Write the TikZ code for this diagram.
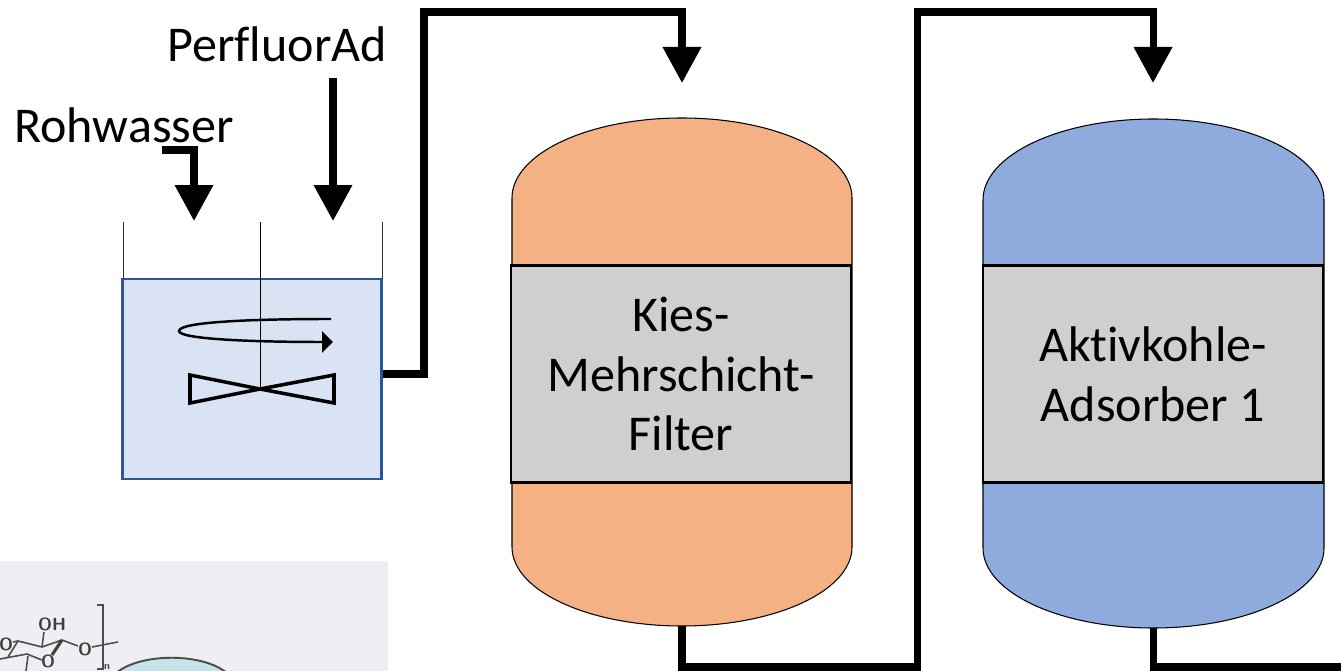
\documentclass[tikz,border=0pt]{standalone}
\usepackage{fontspec}
\setmainfont[Ligatures=NoCommon]{Carlito}
\usetikzlibrary{calc, arrows.meta}
\definecolor{tankblue}{HTML}{D9E3F3}
\definecolor{tankedge}{HTML}{2F5597}
\definecolor{filterorange}{HTML}{F4B183}
\definecolor{carbonblue}{HTML}{8FAADC}
\definecolor{coregray}{HTML}{D0CECE}
\definecolor{photogray}{HTML}{EFEEF3}
\definecolor{domeblue}{HTML}{C4E4EA}
\tikzset{
	pipe/.style = {line width = 4pt, line join = miter},
	feed/.style = {pipe, -{Triangle[width = 0.74cm, length = 0.72cm]}},
	corebox/.style = {draw, line width = 1.2pt, fill = coregray, minimum width = 6.8cm, minimum height = 4.34cm, align = center, font = \fontsize{28.5}{34}\selectfont, inner sep = 0pt},
	vessel/.style = {draw, line width = 0.6pt},
	label/.style = {font = \fontsize{28.5}{33}\selectfont, inner sep = 0pt},
	chem/.style = {line width = 0.9pt, draw = black!70},
	chemtext/.style = {font = \sffamily\bfseries\fontsize{10}{11}\selectfont, inner sep = 0pt, text = black!75}
}
\begin{document}
\begin{tikzpicture}[x = 0.02cm, y = -0.02cm]
	\useasboundingbox (0,0) rectangle (1341,671);
	\clip (0,0) rectangle (1341,671);

	% photo fragment
	\begin{scope}
		\fill [photogray] (0,561) rectangle (388,671);
		\draw [chem, line width = 1.1pt, fill = domeblue] (114,675) .. controls (137,652) and (206,652) .. (229,675);
		\draw [chem] (97,605) -- (103,605) -- (103,669) -- (97,669);
		\draw [chem] (13,642) -- (18,641) -- (42,647) -- (62,640) -- (78,646);
		\draw [chem] (92,647) -- (118,642);
		\draw [chem] (0,659) -- (27,654) -- (42,660);
		\draw [chem] (18,641) -- (8,657);
		\draw [chem] (42,647) -- (44,632);
		\draw [chem] (28,656) -- (26,671);
		\draw [line width = 1.8pt, black!75] (62,640) -- (52,655);
		\node [chemtext] (oh) at (52,624) {OH};
		\node [chemtext] (oa) at (85,649) {O};
		\node [chemtext] (ob) at (48,661) {O};
		\node [chemtext] (oc) at (6,644) {O};
		\node [chemtext, font = \sffamily\bfseries\fontsize{6}{7}\selectfont] (rep) at (107,667) {n};
	\end{scope}

	% mixing tank
	\node [draw = tankedge, line width = 1.2pt, fill = tankblue, minimum width = 5.18cm, minimum height = 4cm, inner sep = 0pt] (tank) at (252,379) {};
	\draw [line width = 0.5pt, black!80] (123,222) -- (123,279);
	\draw [line width = 0.5pt, black!80] (382,222) -- (382,279);
	\draw [line width = 0.5pt] (260,222) -- (260,389);
	\draw [line width = 2pt] (190,375) -- (260,389) -- (334,375) -- (334,403) -- (260,389) -- (190,403) -- cycle;
	\draw [line width = 1.4pt, -{Triangle[width = 0.42cm, length = 0.22cm]}] (331,319) .. controls (250,319) and (179,322) .. (179,331) .. controls (179,339) and (250,342) .. (333,342);

	% labels
	\node [label, anchor = west] (raw) at (14,125) {Rohwasser};
	\node [label, anchor = west] (dose) at (167,44) {PerfluorAd};
	\coordinate (rawstart) at (162,150);
	\coordinate (rawend) at (194,221);
	\coordinate (dosestart) at (333,78);
	\coordinate (doseend) at (333,221);
	\draw [feed] (rawstart) -- (rawend |- rawstart) -- (rawend);
	\draw [feed] (dosestart) -- (doseend);

	% filter vessel
	\draw [vessel, fill = filterorange] (512,265) -- (512,198) arc [start angle = 180, end angle = 360, x radius = 170, y radius = 80] -- (852,547) arc [start angle = 0, end angle = 180, x radius = 170, y radius = 79] -- cycle;
	\node [corebox] (filter) at (681,374) {Kies-\\Mehrschicht-\\Filter};

	% adsorber vessel
	\draw [vessel, fill = carbonblue] (983,265) -- (983,200) arc [start angle = 180, end angle = 360, x radius = 170.5, y radius = 81] -- (1324,548) arc [start angle = 0, end angle = 180, x radius = 170.5, y radius = 80] -- cycle;
	\node [corebox] (carbon) at (1153,374) {Aktivkohle-\\Adsorber 1};

	% pipes
	\coordinate (filtertop) at (682,83);
	\coordinate (filterbot) at (682,626);
	\coordinate (carbontop) at (1153,83);
	\coordinate (carbonbot) at (1153,628);
	\coordinate (exit) at (1345,667);
	\draw [feed] ($ (tank.east) + (0,-5) $) -- (424,374) -- (424,12) -- (filtertop |- 0,12) -- (filtertop);
	\draw [feed] (filterbot) -- (682,667) -- (917,667) -- (917,12) -- (carbontop |- 0,12) -- (carbontop);
	\draw [pipe] (carbonbot) -- (1153,667) -- (exit);
\end{tikzpicture}
\end{document}
